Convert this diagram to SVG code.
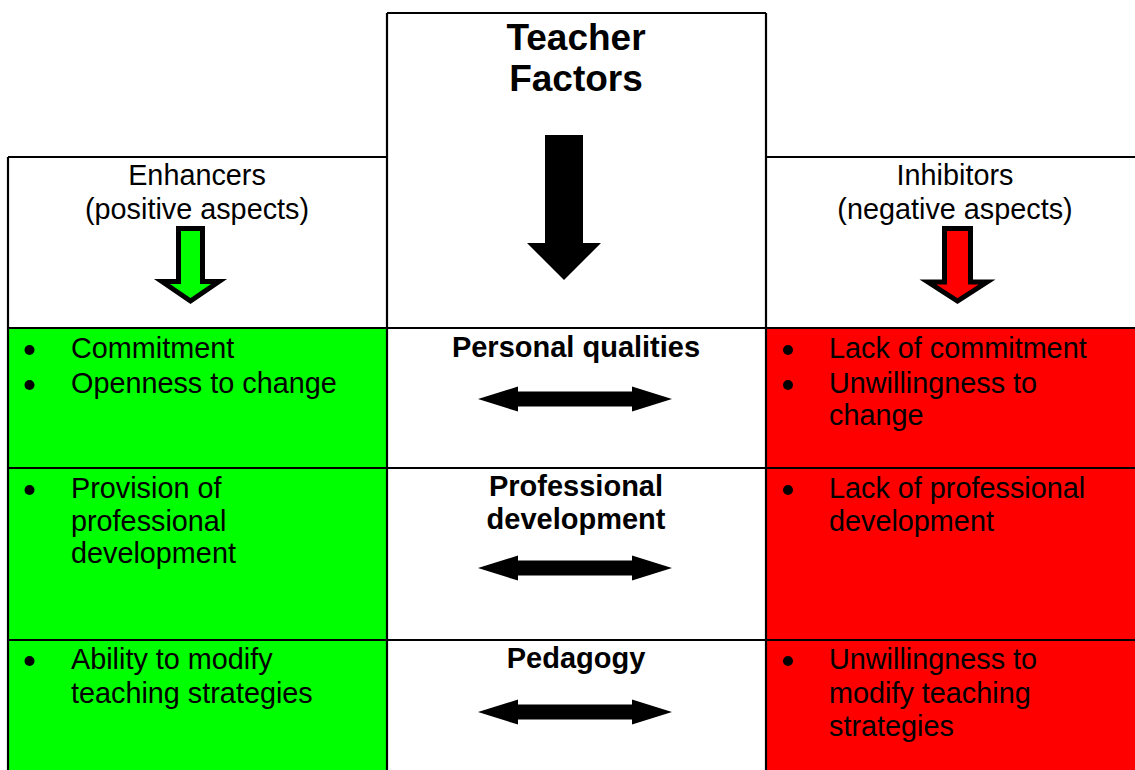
<svg xmlns="http://www.w3.org/2000/svg" width="1135" height="770" viewBox="0 0 1135 770">
<style>
.t{font-family:"Liberation Sans",Arial,sans-serif;font-size:28.8px;fill:#000}
.b{font-family:"Liberation Sans",Arial,sans-serif;font-size:29px;font-weight:bold;fill:#000}
.h{font-family:"Liberation Sans",Arial,sans-serif;font-size:37px;font-weight:bold;fill:#000}
.ln{stroke:#000;stroke-width:2.2;fill:none}
.arr{fill:#000}
</style>
<defs>
<polygon id="dbl" points="478,0 518,-12.5 518,-7.5 632,-7.5 632,-12.5 672,0 632,12.5 632,7.5 518,7.5 518,12.5"/>
</defs>
<rect x="0" y="0" width="1135" height="770" fill="#fff"/>
<g id="fills">
<rect x="8" y="328" width="379" height="442" fill="#00ff00"/>
<rect x="766" y="328" width="369" height="442" fill="#ff0000"/>
</g>
<g id="grid">
<line class="ln" x1="8" y1="157" x2="387" y2="157"/>
<line class="ln" x1="766" y1="157" x2="1135" y2="157"/>
<line class="ln" x1="387" y1="13" x2="766" y2="13"/>
<line class="ln" x1="8" y1="157" x2="8" y2="770"/>
<line class="ln" x1="387" y1="13" x2="387" y2="770"/>
<line class="ln" x1="766" y1="13" x2="766" y2="770"/>
<line class="ln" x1="8" y1="328" x2="1135" y2="328"/>
<line class="ln" x1="8" y1="468" x2="1135" y2="468"/>
<line class="ln" x1="8" y1="640" x2="1135" y2="640"/>
</g>
<g id="teacher-factors">
<text class="h" x="576" y="50" text-anchor="middle">Teacher</text>
<text class="h" x="576" y="91" text-anchor="middle">Factors</text>
</g>
<g id="enhancers">
<text class="t" x="197" y="185" text-anchor="middle">Enhancers</text>
<text class="t" x="197" y="219" text-anchor="middle">(positive aspects)</text>
</g>
<g id="inhibitors">
<text class="t" x="955" y="185" text-anchor="middle">Inhibitors</text>
<text class="t" x="955" y="219" text-anchor="middle">(negative aspects)</text>
</g>
<g id="personal-qualities">
<text class="b" x="576" y="357" text-anchor="middle">Personal qualities</text>
</g>
<g id="professional-development">
<text class="b" x="576" y="496" text-anchor="middle">Professional</text>
<text class="b" x="576" y="529" text-anchor="middle">development</text>
</g>
<g id="pedagogy">
<text class="b" x="576" y="668" text-anchor="middle">Pedagogy</text>
</g>
<g id="enh-personal">
<circle cx="29.5" cy="350" r="5"/>
<text class="t" x="71" y="358">Commitment</text>
<circle cx="29.5" cy="385" r="5"/>
<text class="t" x="71" y="393">Openness to change</text>
</g>
<g id="inh-personal">
<circle cx="788" cy="350" r="5"/>
<text class="t" x="829" y="358">Lack of commitment</text>
<circle cx="788" cy="385" r="5"/>
<text class="t" x="829" y="393">Unwillingness to</text>
<text class="t" x="829" y="425">change</text>
</g>
<g id="enh-professional">
<circle cx="29.5" cy="490" r="5"/>
<text class="t" x="71" y="498">Provision of</text>
<text class="t" x="71" y="531">professional</text>
<text class="t" x="71" y="563">development</text>
</g>
<g id="inh-professional">
<circle cx="788" cy="490" r="5"/>
<text class="t" x="829" y="498">Lack of professional</text>
<text class="t" x="829" y="531">development</text>
</g>
<g id="enh-pedagogy">
<circle cx="29.5" cy="661" r="5"/>
<text class="t" x="71" y="669">Ability to modify</text>
<text class="t" x="71" y="703">teaching strategies</text>
</g>
<g id="inh-pedagogy">
<circle cx="788" cy="661" r="5"/>
<text class="t" x="829" y="669">Unwillingness to</text>
<text class="t" x="829" y="703">modify teaching</text>
<text class="t" x="829" y="736">strategies</text>
</g>
<g id="connectors">
<polygon class="arr" points="545,135 583,135 583,243 601,243 564,280 527,243 545,243"/>
<polygon points="178.5,228.5 202.5,228.5 202.5,281.5 219,281.5 190.5,301 162,281.5 178.5,281.5" fill="#00ff00" stroke="#000" stroke-width="5"/>
<polygon points="944.5,228.5 970.5,228.5 970.5,282 987,282 957.5,301 928,282 944.5,282" fill="#ff0000" stroke="#000" stroke-width="5"/>
<use href="#dbl" transform="translate(0,399)"/>
<use href="#dbl" transform="translate(0,568)"/>
<use href="#dbl" transform="translate(0,712)"/>
</g>
</svg>
